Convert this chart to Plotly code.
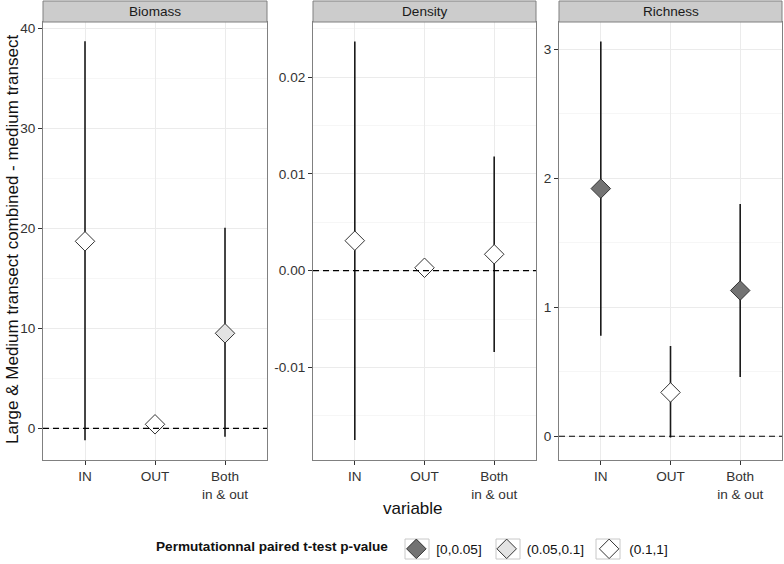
import plotly.graph_objects as go

# ---------------- data ----------------
categories = ["IN", "OUT", "Both<br>in & out"]
panels = ["Biomass", "Density", "Richness"]

biomass_mean = [18.7, 0.4, 9.5]
biomass_low = [-1.2, 0.1, -0.85]
biomass_high = [38.7, 0.7, 20.05]
biomass_p = ["(0.1,1]", "(0.1,1]", "(0.05,0.1]"]

density_mean = [0.0031, 0.0003, 0.0017]
density_low = [-0.0175, 0.0001, -0.0084]
density_high = [0.0237, 0.0005, 0.0118]
density_p = ["(0.1,1]", "(0.1,1]", "(0.1,1]"]

richness_mean = [1.92, 0.34, 1.13]
richness_low = [0.78, -0.01, 0.46]
richness_high = [3.06, 0.70, 1.80]
richness_p = ["[0,0.05]", "(0.1,1]", "[0,0.05]"]

p_classes = ["[0,0.05]", "(0.05,0.1]", "(0.1,1]"]
p_colors = {"[0,0.05]": "#737373", "(0.05,0.1]": "#e3e3e3", "(0.1,1]": "#ffffff"}

biomass_ticks = [0, 10, 20, 30, 40]
biomass_ticktext = ["0", "10", "20", "30", "40"]
density_ticks = [-0.01, 0.0, 0.01, 0.02]
density_ticktext = ["-0.01", "0.00", "0.01", "0.02"]
richness_ticks = [0, 1, 2, 3]
richness_ticktext = ["0", "1", "2", "3"]

# ---------------- layout geometry ----------------
W, H = 784, 564
ml, mr, mt, mb = 43, 2, 22, 104
pw = W - ml - mr
ph = H - mt - mb
FONT = "Liberation Sans, Arial, sans-serif"

def px_to_paper_x(px):
    return (px - ml) / pw

def px_to_paper_y(py):
    return (H - mb - py) / ph

domains = [
    [px_to_paper_x(43), px_to_paper_x(267)],
    [px_to_paper_x(313), px_to_paper_x(536)],
    [px_to_paper_x(559), px_to_paper_x(782)],
]
yranges = [[-3.17, 40.63], [-0.01958, 0.02572], [-0.184, 3.2116]]
yminor = [5, 0.005, 0.5]
yticks = [(biomass_ticks, biomass_ticktext), (density_ticks, density_ticktext),
          (richness_ticks, richness_ticktext)]

data_sets = [
    (biomass_mean, biomass_low, biomass_high, biomass_p),
    (density_mean, density_low, density_high, density_p),
    (richness_mean, richness_low, richness_high, richness_p),
]

fig = go.Figure()
shown = set()
for i, (mean, low, high, pcls) in enumerate(data_sets):
    xa = "x" if i == 0 else f"x{i+1}"
    ya = "y" if i == 0 else f"y{i+1}"
    for pc in p_classes:
        idx = [k for k in range(len(categories)) if pcls[k] == pc]
        if not idx:
            continue
        fig.add_trace(go.Scatter(
            x=[categories[k] for k in idx],
            y=[mean[k] for k in idx],
            mode="markers",
            name=pc,
            legendgroup=pc,
            legendrank=p_classes.index(pc) + 1,
            showlegend=pc not in shown,
            marker=dict(symbol="diamond", size=15, color=p_colors[pc],
                        line=dict(color="#333333", width=1)),
            error_y=dict(type="data", symmetric=False,
                         array=[high[k] - mean[k] for k in idx],
                         arrayminus=[mean[k] - low[k] for k in idx],
                         width=0, thickness=1.6, color="#1a1a1a"),
            xaxis=xa, yaxis=ya,
            hoverinfo="skip",
        ))
        shown.add(pc)

shapes = []
annotations = []
for i in range(3):
    sfx = "" if i == 0 else str(i + 1)
    xkey = "xaxis" + sfx
    ykey = "yaxis" + sfx
    fig.layout[xkey] = dict(
        domain=domains[i], anchor="y" + sfx, type="category",
        categoryorder="array", categoryarray=categories,
        range=[-0.6, 2.6], showgrid=True, gridcolor="#ebebeb", gridwidth=1,
        showline=True, mirror=True, linecolor="#808080", linewidth=1,
        ticks="outside", ticklen=4, tickcolor="#333333",
        tickfont=dict(family=FONT, size=13.6, color="#333333"),
        zeroline=False, fixedrange=True, automargin=False,
    )
    fig.layout[ykey] = dict(
        domain=[0, 1], anchor="x" + sfx, range=yranges[i],
        tickvals=yticks[i][0], ticktext=yticks[i][1],
        showgrid=True, gridcolor="#ebebeb", gridwidth=1,
        minor=dict(dtick=yminor[i], showgrid=True, gridcolor="#f6f6f6", gridwidth=1),
        showline=True, mirror=True, linecolor="#808080", linewidth=1,
        ticks="outside", ticklen=4, tickcolor="#333333",
        tickfont=dict(family=FONT, size=13.6, color="#333333"),
        zeroline=False, fixedrange=True, automargin=False,
    )
    # dashed zero line
    shapes.append(dict(type="line", xref=f"x{sfx} domain", yref="y" + sfx,
                       x0=0, x1=1, y0=0, y1=0,
                       line=dict(color="#000000", width=1.2, dash="6px,4px")))
    # strip
    shapes.append(dict(type="rect", xref="paper", yref="paper",
                       x0=domains[i][0], x1=domains[i][1],
                       y0=1, y1=1 + 21 / ph,
                       fillcolor="#cccccc", line=dict(color="#808080", width=1),
                       layer="above"))
    annotations.append(dict(text=panels[i], xref="paper", yref="paper",
                            x=(domains[i][0] + domains[i][1]) / 2, y=1 + 10.5 / ph,
                            xanchor="center", yanchor="middle", showarrow=False,
                            font=dict(family=FONT, size=13.6, color="#1a1a1a")))

# legend key boxes (decoration behind the native legend symbols)
legend_key_centers_px = [417, 508, 608]
for cx in legend_key_centers_px:
    shapes.append(dict(type="rect", xref="paper", yref="paper",
                       x0=px_to_paper_x(cx - 12), x1=px_to_paper_x(cx + 12),
                       y0=px_to_paper_y(559), y1=px_to_paper_y(539),
                       fillcolor="#ffffff", line=dict(color="#c8c8c8", width=1),
                       layer="above"))

annotations.append(dict(text="Large & Medium transect combined - medium transect",
                        xref="paper", yref="paper", x=px_to_paper_x(12), y=px_to_paper_y(240),
                        xanchor="center", yanchor="middle", textangle=-90, showarrow=False,
                        font=dict(family=FONT, size=17, color="#111111")))
annotations.append(dict(text="variable", xref="paper", yref="paper",
                        x=px_to_paper_x(412.5), y=px_to_paper_y(508),
                        xanchor="center", yanchor="middle", showarrow=False,
                        font=dict(family=FONT, size=17, color="#111111")))

fig.update_layout(
    width=W, height=H,
    margin=dict(l=ml, r=mr, t=mt, b=mb, autoexpand=False),
    paper_bgcolor="white", plot_bgcolor="white",
    shapes=shapes, annotations=annotations,
    showlegend=True,
    legend=dict(orientation="h", x=px_to_paper_x(413.5), xanchor="center",
                y=px_to_paper_y(549), yanchor="middle", valign="middle",
                bgcolor="rgba(0,0,0,0)",
                title=dict(text="<b>Permutationnal paired t-test p-value</b>", side="left",
                           font=dict(family=FONT, size=13.6, color="#111111")),
                font=dict(family=FONT, size=13.6, color="#111111"),
                itemwidth=30, traceorder="normal", tracegroupgap=0),
    font=dict(family=FONT),
)

fig.write_html("out.html", config={"displayModeBar": False},
               post_script="document.body.style.margin='0';document.body.style.padding='0';")
